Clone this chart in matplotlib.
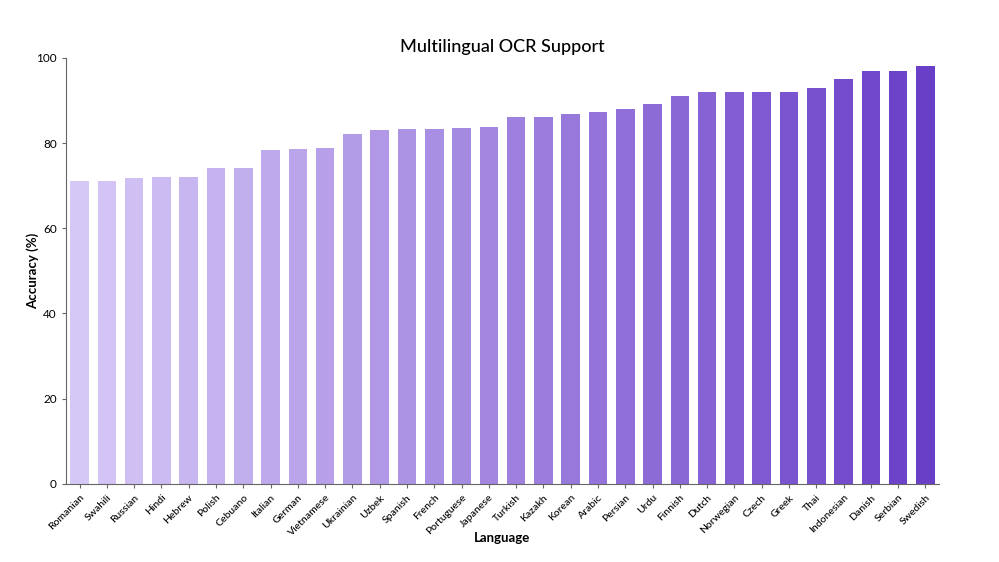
import matplotlib.pyplot as plt
import numpy as np
from matplotlib.colors import LinearSegmentedColormap

languages = ["Romanian", "Swahili", "Russian", "Hindi", "Hebrew", "Polish", "Cebuano",
             "Italian", "German", "Vietnamese", "Ukrainian", "Uzbek", "Spanish", "French",
             "Portuguese", "Japanese", "Turkish", "Kazakh", "Korean", "Arabic", "Persian",
             "Urdu", "Finnish", "Dutch", "Norwegian", "Czech", "Greek", "Thai",
             "Indonesian", "Danish", "Serbian", "Swedish"]
accuracy = [71.0, 71.0, 71.7, 72.1, 72.1, 74.1, 74.1, 78.4, 78.6, 78.9, 82.1, 83.1,
            83.4, 83.4, 83.6, 83.7, 86.1, 86.1, 86.9, 87.2, 88.1, 89.1, 91.1, 92.1,
            92.1, 92.1, 92.1, 93.0, 95.1, 97.0, 97.0, 98.0]

plt.rcParams['font.family'] = ['Lato', 'DejaVu Sans']

cmap = LinearSegmentedColormap.from_list("purp", ["#d6c8f6", "#6a3fc8"])
n = len(languages)
colors = [cmap(i / (n - 1)) for i in range(n)]

fig = plt.figure(figsize=(9.99, 5.62), dpi=100)
ax = fig.add_axes([0.066, 0.139, 0.874, 0.758])
x = np.arange(n)
ax.bar(x, accuracy, width=0.68, color=colors)

ax.set_xlim(-0.5, n - 0.5)
ax.set_ylim(0, 100)
ax.set_yticks([0, 20, 40, 60, 80, 100])
ax.set_xticks(x)
ax.set_xticklabels(languages, rotation=45, ha="right", rotation_mode="anchor",
                   fontsize=7.5, fontweight="medium")
ax.tick_params(axis="y", labelsize=8.5, length=3, color="#666666")
ax.tick_params(axis="x", length=3, color="#666666")
for s in ["top", "right"]:
    ax.spines[s].set_visible(False)
for s in ["left", "bottom"]:
    ax.spines[s].set_color("#666666")

ax.set_title("Multilingual OCR Support", fontsize=13, pad=4, fontweight="medium")
ax.set_ylabel("Accuracy (%)", fontsize=9.5, labelpad=-2, fontweight="bold")
ax.set_xlabel("Language", fontsize=9.5, labelpad=-4, fontweight="bold")

fig.savefig("out.png", dpi=100)
